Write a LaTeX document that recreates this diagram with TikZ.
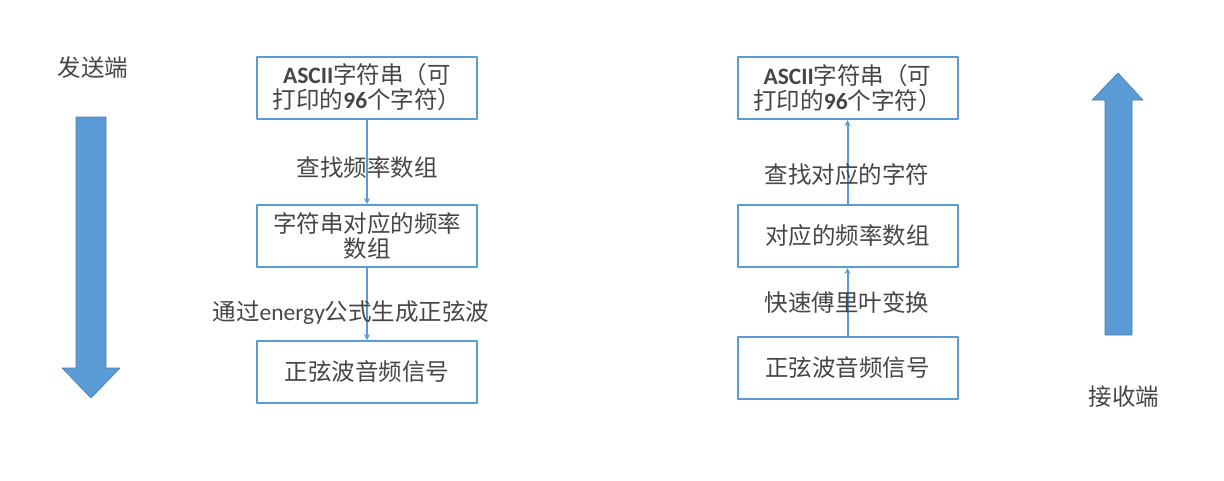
\documentclass[tikz,border=0pt]{standalone}
\usepackage{fontspec}
\setmainfont{Noto Sans CJK SC}
\newfontfamily\latinfont{Carlito}
\usetikzlibrary{arrows.meta}
\definecolor{boxblue}{RGB}{91,155,213}
\definecolor{txtgray}{RGB}{70,70,70}
\begin{document}
\begin{tikzpicture}[x=1pt, y=-1pt, line join=round, >={Stealth[length=6pt,width=6pt]},
    font=\fontsize{23.5}{25}\selectfont, text=txtgray,
    stepbox/.style={draw=boxblue, line width=2pt, minimum width=220pt, minimum height=62pt, align=center, inner sep=0pt},
    flow/.style={draw=boxblue, line width=2pt, ->},
    bigarrow/.style={fill=boxblue, draw=boxblue!80!black, line width=.6pt}]
    \fill[white] (0,0) rectangle (1224,480);
    \useasboundingbox (0,0) rectangle (1224,480);
    % sender side
    \node (send) at (93,68) {发送端};
    \draw[bigarrow] (76,117) -- (106,117) -- (106,368) -- (120,368) -- (91,398) -- (62,368) -- (76,368) -- cycle;
    \node[stepbox] (sa) at (367,87.5) {{\latinfont\bfseries ASCII}字符串（可\\打印的{\latinfont\bfseries 96}个字符）};
    \node[stepbox] (sb) at (367,236) {字符串对应的频率\\数组};
    \node[stepbox] (sc) at (367,372) {正弦波音频信号};
    \draw[flow] (sa) -- (sb);
    \draw[flow] (sb) -- (sc);
    \node (lab) at (367,168) {查找频率数组};
    \node (lbc) at (351,313) {通过{\latinfont energy}公式生成正弦波};
    % receiver side
    \node (recv) at (1124,397) {接收端};
    \draw[bigarrow] (1105,335) -- (1132,335) -- (1132,100) -- (1143,100) -- (1118,73) -- (1092,100) -- (1105,100) -- cycle;
    \node[stepbox] (ra) at (847.5,88) {{\latinfont\bfseries ASCII}字符串（可\\打印的{\latinfont\bfseries 96}个字符）};
    \node[stepbox] (rb) at (847.5,236) {对应的频率数组};
    \node[stepbox] (rc) at (847.5,367.5) {正弦波音频信号};
    \draw[flow] (rb) -- (ra);
    \draw[flow] (rc) -- (rb);
    \node (lra) at (847,175) {查找对应的字符};
    \node (lrb) at (847,303) {快速傅里叶变换};
\end{tikzpicture}
\end{document}
